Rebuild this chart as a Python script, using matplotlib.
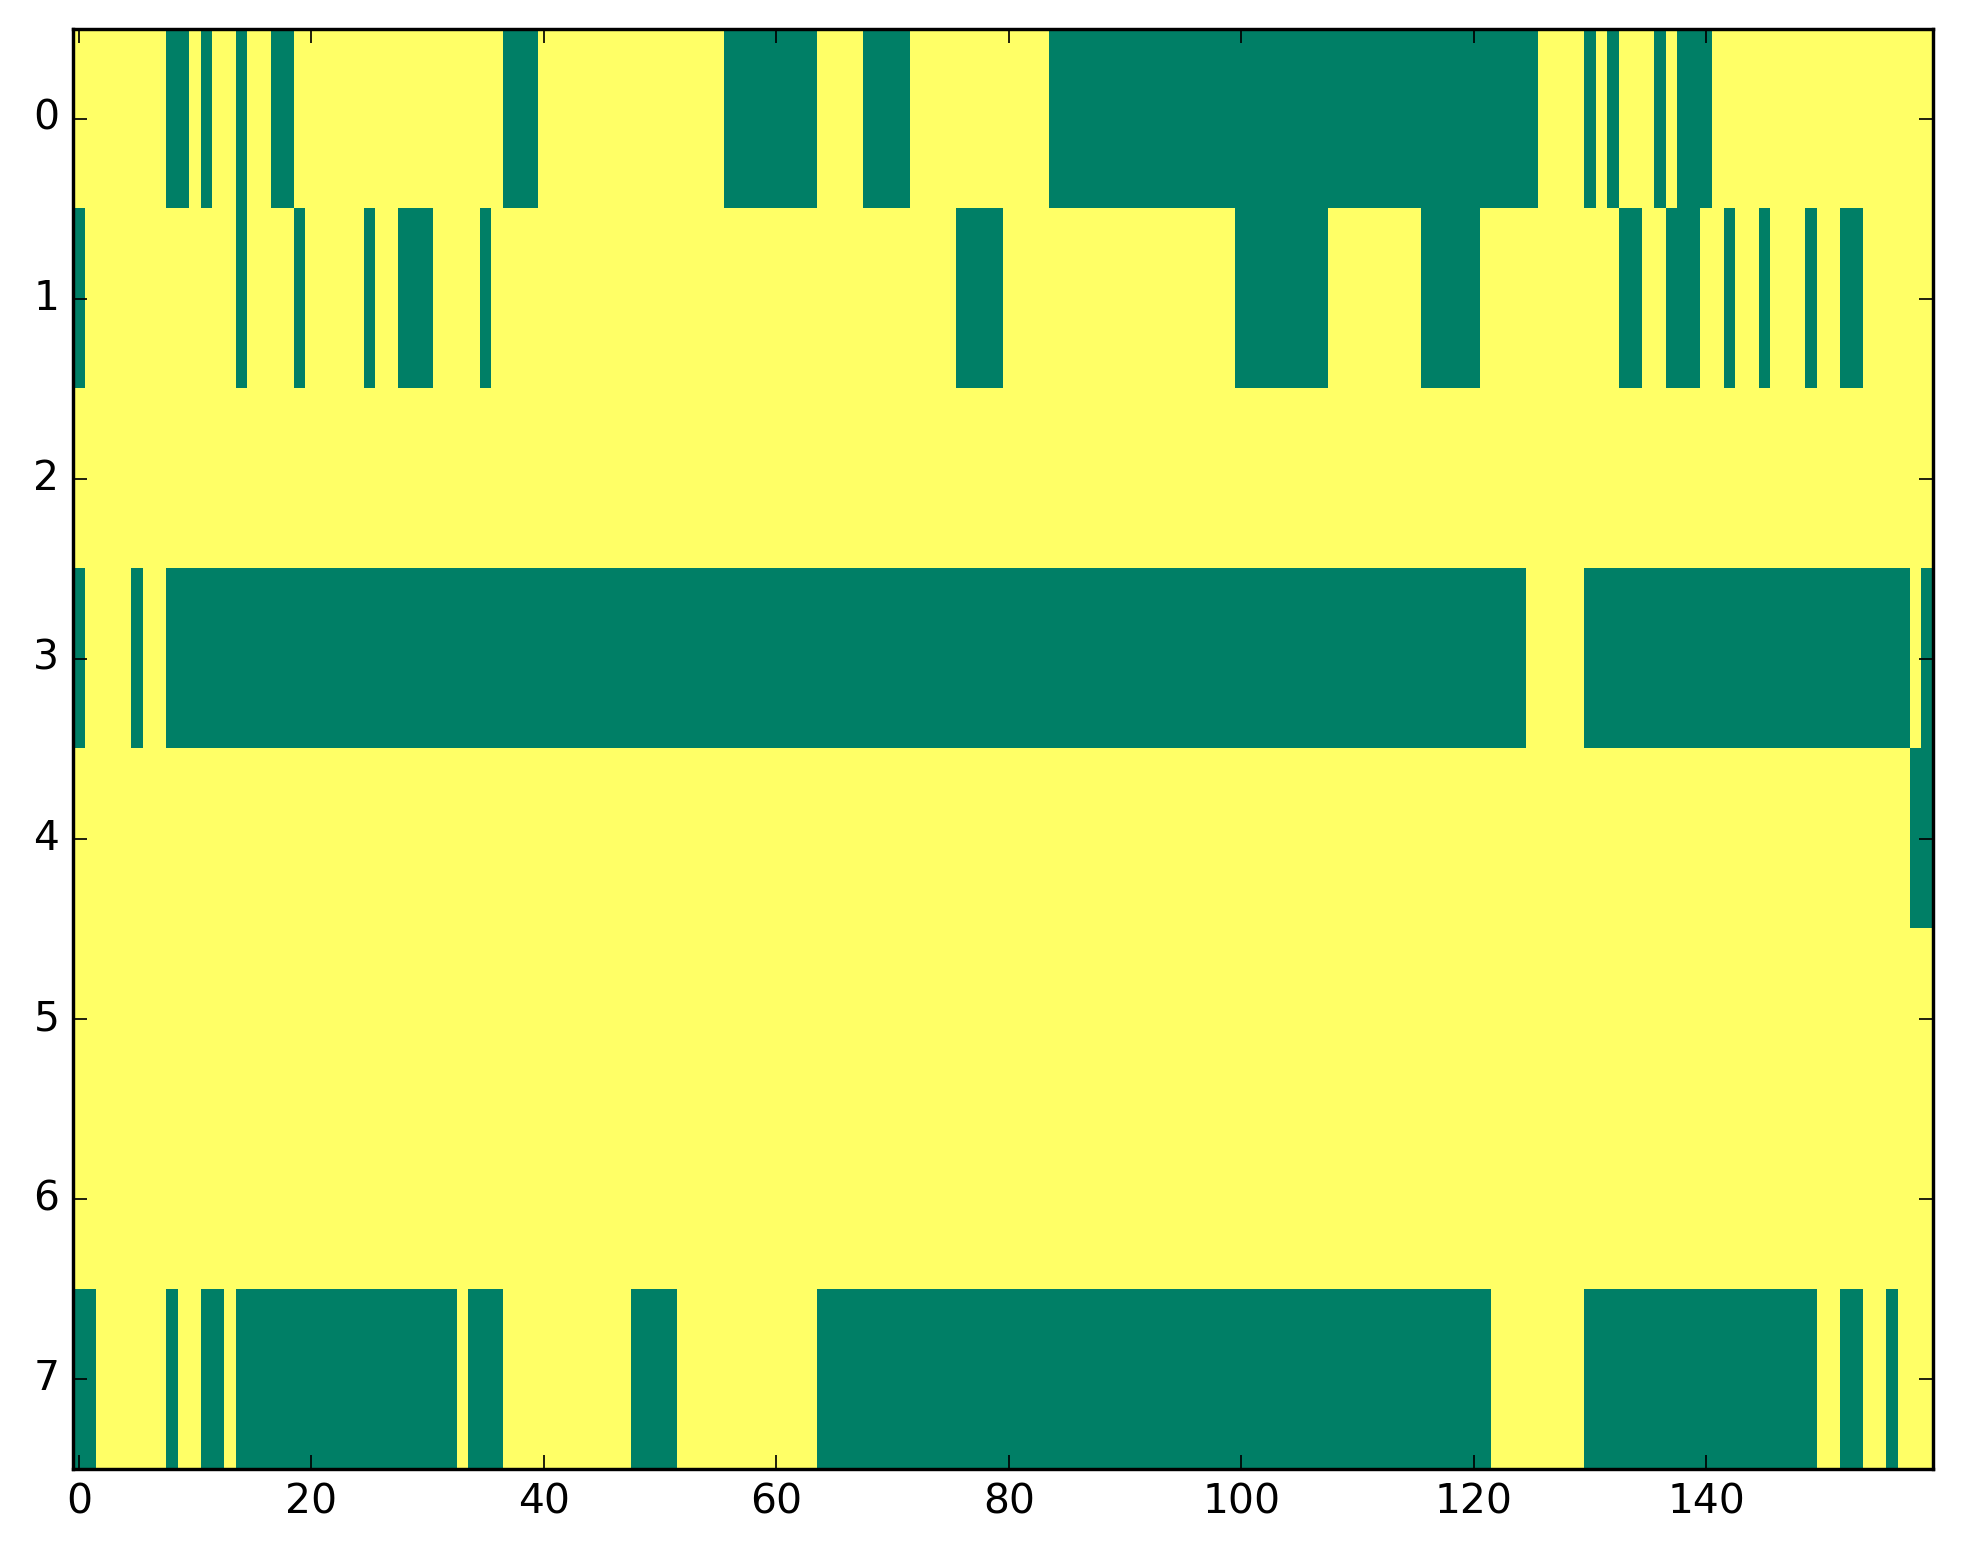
import matplotlib
matplotlib.use("Agg")
import matplotlib.pyplot as plt
import numpy as np

N_ROWS = 8
N_COLS = 160

# green cells (value 0) per row, as inclusive column runs (start, end)
row0_runs = [(8, 9), (11, 11), (14, 14), (17, 18), (37, 39), (56, 63), (68, 71),
             (84, 125), (130, 130), (132, 132), (136, 136), (138, 140)]
row1_runs = [(0, 0), (14, 14), (19, 19), (25, 25), (28, 30), (35, 35), (76, 79),
             (100, 107), (116, 120), (133, 134), (137, 139), (142, 142),
             (145, 145), (149, 149), (152, 153)]
row2_runs = []
row3_runs = [(0, 0), (5, 5), (8, 124), (130, 157), (159, 159)]
row4_runs = [(158, 159)]
row5_runs = []
row6_runs = []
row7_runs = [(0, 1), (8, 8), (11, 12), (14, 32), (34, 36), (48, 51), (64, 121),
             (130, 149), (152, 153), (156, 156)]

all_runs = [row0_runs, row1_runs, row2_runs, row3_runs,
            row4_runs, row5_runs, row6_runs, row7_runs]

grid = np.ones((N_ROWS, N_COLS))
for r, runs in enumerate(all_runs):
    for a, b in runs:
        grid[r, a:b + 1] = 0

plt.style.use("classic")
fig = plt.figure(figsize=(1963 / 245, 1564 / 245), dpi=245)
ax = fig.add_axes([0.0372, 0.0607, 0.9475, 0.9208])
ax.imshow(grid, cmap="summer", aspect="auto", interpolation="nearest",
          vmin=0, vmax=1)
ax.set_xlim(-0.5, N_COLS - 0.5)
ax.set_ylim(N_ROWS - 0.5, -0.5)

fig.savefig("out.png", dpi=245)
